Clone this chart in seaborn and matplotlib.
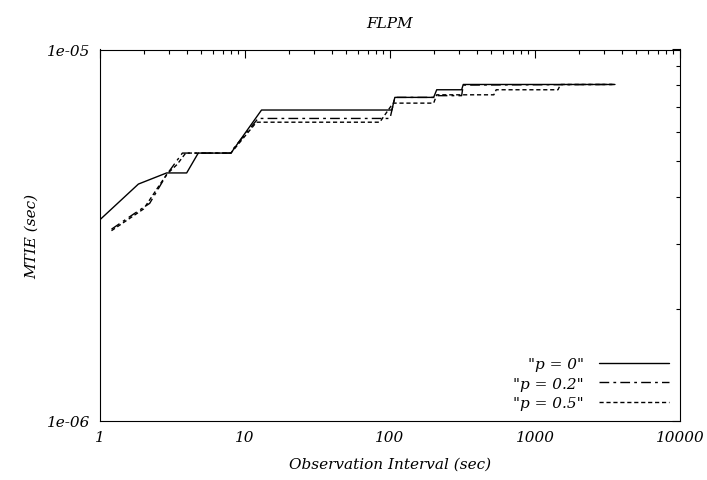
import numpy as np
import pandas as pd
import seaborn as sns
import matplotlib
matplotlib.use("Agg")
import matplotlib.pyplot as plt
from matplotlib.ticker import FixedLocator, FixedFormatter, LogLocator, NullFormatter
from matplotlib.lines import Line2D

# --- data ---
x_p0 = [1.0, 1.84, 2.88, 3.96, 4.76, 8.0, 13.0, 103, 108, 200, 210, 312, 320, 3560]
y_p0 = [3.48e-6, 4.34e-6, 4.65e-6, 4.65e-6, 5.26e-6, 5.26e-6, 6.87e-6, 6.87e-6,
        7.43e-6, 7.43e-6, 7.79e-6, 7.79e-6, 8.05e-6, 8.05e-6]

x_p02 = [1.2, 1.7, 2.2, 2.9, 3.0, 3.7, 8.0, 8.3, 12.3, 100, 108, 204, 210, 312, 320, 3560]
y_p02 = [3.28e-6, 3.6e-6, 3.85e-6, 4.62e-6, 4.7e-6, 5.26e-6, 5.26e-6, 5.4e-6, 6.52e-6,
         6.52e-6, 7.43e-6, 7.43e-6, 7.51e-6, 7.51e-6, 8.02e-6, 8.05e-6]

x_p05 = [1.2, 2.0, 2.6, 2.9, 3.4, 3.9, 8.0, 12.0, 85, 105, 200, 210, 520, 540, 1440, 1500, 3560]
y_p05 = [3.25e-6, 3.72e-6, 4.34e-6, 4.62e-6, 4.9e-6, 5.26e-6, 5.26e-6, 6.37e-6, 6.37e-6,
         7.17e-6, 7.17e-6, 7.55e-6, 7.55e-6, 7.79e-6, 7.79e-6, 8.05e-6, 8.05e-6]

series_names = ['"p = 0"', '"p = 0.2"', '"p = 0.5"']
x_ticks = [1, 10, 100, 1000, 10000]
x_tick_labels = ["1", "10", "100", "1000", "10000"]
y_ticks = [1e-6, 1e-5]
y_tick_labels = ["1e-06", "1e-05"]

df = pd.concat([
    pd.DataFrame({"x": x_p0, "y": y_p0, "series": series_names[0]}),
    pd.DataFrame({"x": x_p02, "y": y_p02, "series": series_names[1]}),
    pd.DataFrame({"x": x_p05, "y": y_p05, "series": series_names[2]}),
], ignore_index=True)

sns.set_style("white")
plt.rcParams["font.family"] = ["DejaVu Serif"]
plt.rcParams["text.color"] = "black"
plt.rcParams["axes.labelcolor"] = "black"
plt.rcParams["xtick.color"] = "black"
plt.rcParams["ytick.color"] = "black"
FS = 11

fig = plt.figure(figsize=(7.07, 4.81), dpi=100)
ax = fig.add_axes([100 / 707, 1 - 421.7 / 481, 580 / 707, 371.2 / 481])

dash_02 = (7, 3, 2, 3)
dash_05 = (3, 2)
sns.lineplot(data=df, x="x", y="y", style="series", color="black",
             dashes={series_names[0]: "", series_names[1]: dash_02,
                     series_names[2]: dash_05},
             sort=False, estimator=None, lw=1.0, ax=ax, legend=False)

ax.set_xscale("log")
ax.set_yscale("log")
ax.set_xlim(1, 10000)
ax.set_ylim(1e-6, 1e-5)

ax.xaxis.set_major_locator(FixedLocator(x_ticks))
ax.xaxis.set_major_formatter(FixedFormatter(x_tick_labels))
ax.xaxis.set_minor_locator(LogLocator(base=10, subs=np.arange(2, 10), numticks=20))
ax.xaxis.set_minor_formatter(NullFormatter())
ax.yaxis.set_major_locator(FixedLocator(y_ticks))
ax.yaxis.set_major_formatter(FixedFormatter(y_tick_labels))
ax.yaxis.set_minor_locator(LogLocator(base=10, subs=np.arange(2, 10), numticks=20))
ax.yaxis.set_minor_formatter(NullFormatter())

ax.tick_params(which="both", direction="in", top=True, right=True, color="black",
               labelcolor="black")
ax.tick_params(which="major", length=6, width=0.8, labelsize=FS, pad=7)
ax.tick_params(which="minor", length=3, width=0.8)
for lab in ax.get_xticklabels() + ax.get_yticklabels():
    lab.set_fontstyle("italic")
for s in ax.spines.values():
    s.set_color("black")
    s.set_linewidth(0.8)

ax.set_title("FLPM", fontsize=FS, style="italic", pad=16, color="black")
ax.set_xlabel("Observation Interval (sec)", fontsize=FS, style="italic", labelpad=9)
ax.set_ylabel("MTIE (sec)", fontsize=FS, style="italic", labelpad=6)

handles = [
    Line2D([], [], color="black", lw=1.0, linestyle="-"),
    Line2D([], [], color="black", lw=1.0, linestyle=(0, dash_02)),
    Line2D([], [], color="black", lw=1.0, linestyle=(0, dash_05)),
]
leg = ax.legend(handles, series_names, loc="lower right", frameon=False,
                markerfirst=False, handlelength=4.6, fontsize=FS,
                labelspacing=0.35, borderaxespad=0.3, handletextpad=1.0)
for t in leg.get_texts():
    t.set_fontstyle("italic")
    t.set_color("black")

fig.savefig("out.png", dpi=100)
